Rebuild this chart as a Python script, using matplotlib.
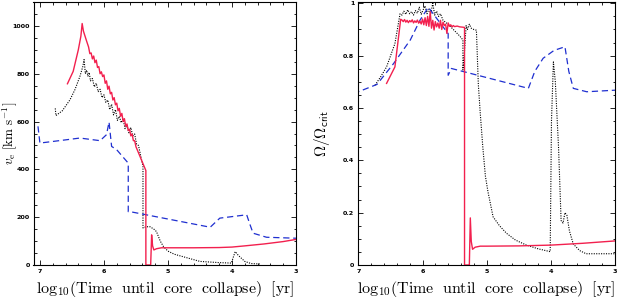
import matplotlib
matplotlib.use("Agg")
import matplotlib.pyplot as plt
from matplotlib.ticker import MultipleLocator, FuncFormatter

plt.rcParams["mathtext.fontset"] = "cm"

RED = "#f2204e"
BLUE = "#1f2fd0"

# ---- left panel: surface equatorial velocity [km/s] ----
red_v_x = [6.57, 6.48, 6.40, 6.36, 6.34, 6.32, 6.27,
           6.24, 6.22, 6.20, 6.18, 6.16, 6.14, 6.12, 6.10, 6.08, 6.06,
           6.04, 6.02, 6.00, 5.98, 5.96, 5.94, 5.92, 5.90, 5.88, 5.86,
           5.84, 5.82, 5.80, 5.78, 5.76, 5.74, 5.72, 5.70, 5.68, 5.66,
           5.64, 5.62, 5.60, 5.58, 5.56, 5.54, 5.52, 5.50,
           5.345, 5.345, 5.32, 5.27, 5.265, 5.255, 5.24, 5.22, 5.18,
           5.10, 5.0, 4.6, 4.2, 4.0, 3.8, 3.5, 3.2, 3.0]
red_v_y = [758, 810, 900, 957, 1010, 978, 936,
           912, 884, 887, 862, 874, 846, 857, 826, 830, 800,
           808, 788, 795, 760, 770, 735, 748, 716, 722, 690,
           700, 670, 677, 645, 655, 622, 634, 600, 612, 580,
           590, 562, 568, 540, 548, 520, 520, 495,
           395, 0, 0, 0, 40, 126, 80, 63, 68,
           72, 72, 72, 73, 75, 80, 88, 98, 107]

blk_v_x = [6.76, 6.75, 6.65, 6.53, 6.45, 6.375, 6.33, 6.31,
           6.29, 6.27, 6.25, 6.23, 6.21, 6.18, 6.15, 6.12, 6.09, 6.06,
           6.03, 6.00, 5.97, 5.94, 5.91, 5.88, 5.85, 5.82, 5.79, 5.76,
           5.73, 5.70, 5.67, 5.64, 5.61, 5.58, 5.55, 5.52, 5.49, 5.46,
           5.39, 5.39, 5.34, 5.28, 5.22, 5.18, 5.12, 5.07, 5.0, 4.9,
           4.7, 4.5, 4.2, 4.01, 3.95, 3.9, 3.8, 3.7, 3.55]
blk_v_y = [655, 625, 645, 691, 735, 789, 830, 859,
           800, 815, 790, 805, 770, 780, 745, 760, 725, 735,
           700, 712, 680, 690, 650, 672, 628, 650, 605, 622,
           595, 610, 570, 585, 553, 575, 540, 548, 505, 500,
           412, 155, 160, 160, 150, 140, 100, 77, 58, 45,
           30, 15, 10, 8, 56, 40, 15, 6, 4]

blu_v_x = [7.03, 7.0, 6.58, 6.375, 6.06, 5.96, 5.92, 5.88, 5.80, 5.62,
           5.62, 5.59, 4.34, 4.19, 3.77, 3.72, 3.67, 3.46, 3.0]
blu_v_y = [580, 510, 524, 531, 520, 545, 598, 496, 482, 426,
           223, 223, 158, 196, 210, 170, 133, 116, 112]

# ---- right panel: Omega / Omega_crit ----
red_o_x = [6.56, 6.43, 6.34,
           6.32, 6.30, 6.28, 6.26, 6.24, 6.22, 6.20, 6.18, 6.16, 6.14,
           6.12, 6.10, 6.08, 6.06, 6.04, 6.02, 6.00, 5.98, 5.96, 5.94,
           5.92, 5.90, 5.88, 5.86, 5.84, 5.82, 5.80, 5.78, 5.76, 5.74,
           5.72, 5.70, 5.68, 5.66, 5.64, 5.62, 5.60, 5.58, 5.56, 5.54,
           5.52, 5.50, 5.46, 5.42, 5.38, 5.345,
           5.345, 5.32, 5.27, 5.265, 5.255, 5.24, 5.22, 5.18, 5.10,
           5.0, 4.5, 4.0, 3.5, 3.0]
red_o_y = [0.694, 0.757, 0.939,
           0.936, 0.930, 0.938, 0.928, 0.935, 0.926, 0.934, 0.929, 0.937, 0.925,
           0.933, 0.927, 0.936, 0.924, 0.932, 0.921, 0.940, 0.918, 0.945, 0.915,
           0.950, 0.912, 0.968, 0.905, 0.935, 0.898, 0.930, 0.910, 0.925, 0.905,
           0.935, 0.900, 0.928, 0.915, 0.920, 0.885, 0.925, 0.912, 0.918, 0.910,
           0.915, 0.911, 0.913, 0.910, 0.909, 0.908,
           0.0, 0.0, 0.0, 0.06, 0.18, 0.09, 0.06, 0.068, 0.072,
           0.072, 0.073, 0.076, 0.083, 0.092]

blk_o_x = [6.74, 6.65, 6.56, 6.43, 6.35,
           6.32, 6.29, 6.26, 6.23, 6.20, 6.17, 6.14, 6.11, 6.08, 6.05,
           6.02, 5.99, 5.96, 5.93, 5.90, 5.87, 5.84, 5.81, 5.78, 5.75,
           5.72, 5.68, 5.60, 5.50, 5.42, 5.37, 5.37, 5.35, 5.32, 5.30,
           5.27, 5.24, 5.20, 5.16, 5.13, 5.10, 5.06, 5.02, 4.98, 4.90,
           4.80, 4.69, 4.55, 4.38, 4.20, 4.01,
           3.99, 3.96, 3.93, 3.88, 3.84, 3.81, 3.78, 3.75, 3.71, 3.65,
           3.55, 3.45, 3.0]
blk_o_y = [0.687, 0.72, 0.757, 0.846, 0.96,
           0.955, 0.970, 0.958, 0.975, 0.960, 0.968, 0.955, 0.972, 0.962, 0.985,
           0.958, 0.975, 0.990, 0.960, 0.978, 0.962, 1.0, 0.955, 0.970, 0.950,
           0.960, 0.935, 0.920, 0.895, 0.875, 0.86, 0.745, 0.80, 0.915, 0.90,
           0.92, 0.905, 0.90, 0.897, 0.69, 0.58, 0.45, 0.34, 0.28, 0.184,
           0.15, 0.121, 0.095, 0.076, 0.062, 0.051,
           0.55, 0.776, 0.70, 0.45, 0.17, 0.16, 0.20, 0.19, 0.13, 0.08,
           0.055, 0.043, 0.043]

blu_o_x = [7.0, 7.0, 6.71, 6.45, 6.19, 6.04, 5.91, 5.60, 5.60, 5.55,
           4.35, 4.25, 4.12, 3.95, 3.78, 3.72, 3.65, 3.44, 3.0]
blu_o_y = [0.72, 0.662, 0.69, 0.77, 0.86, 0.935, 0.985, 0.884, 0.725, 0.751,
           0.675, 0.74, 0.79, 0.82, 0.834, 0.74, 0.675, 0.662, 0.668]


def style_axes(ax, ymajor, yminor, fmt):
    ax.xaxis.set_major_locator(MultipleLocator(1))
    ax.xaxis.set_minor_locator(MultipleLocator(0.2))
    ax.yaxis.set_major_locator(MultipleLocator(ymajor))
    ax.yaxis.set_minor_locator(MultipleLocator(yminor))
    ax.yaxis.set_major_formatter(FuncFormatter(fmt))
    ax.xaxis.set_major_formatter(FuncFormatter(lambda v, p: "%d" % round(v)))
    ax.tick_params(which="both", direction="in", top=True, right=True,
                   width=0.6, labelsize=4.6)
    ax.tick_params(which="major", length=3.6)
    ax.tick_params(which="minor", length=1.8)
    ax.tick_params(axis="y", pad=2.5)
    ax.tick_params(axis="x", pad=3)
    for lab in ax.get_xticklabels() + ax.get_yticklabels():
        lab.set_fontweight("bold")
    for sp in ax.spines.values():
        sp.set_linewidth(0.8)
    ax.set_xlabel(r"$\mathrm{log_{10}(Time\ \ until\ \ core\ \ collapse)\ \ [yr]}$",
                  fontsize=11.5)
    ax.xaxis.set_label_coords(0.5, -0.055)


fig = plt.figure(figsize=(6.23, 2.99), dpi=100)
ax1 = fig.add_axes([33.5 / 623, 1 - 265 / 299, (296 - 33.5) / 623, 263 / 299])
ax2 = fig.add_axes([357.7 / 623, 1 - 265 / 299, (615 - 357.7) / 623, 263 / 299])

ax1.plot(blk_v_x, blk_v_y, color="k", ls=(0, (1, 1.2)), lw=0.8)
ax1.plot(blu_v_x, blu_v_y, color=BLUE, ls=(0, (5, 3)), lw=0.9)
ax1.plot(red_v_x, red_v_y, color=RED, lw=1.0)
ax1.set_xlim(7.1, 3.0)
ax1.set_ylim(0, 1100)
style_axes(ax1, 200, 50, lambda v, p: "%d" % round(v))
ax1.set_ylabel(r"$v_{\rm e}\ \mathrm{[km\ s^{-1}]}$", fontsize=9.5)
ax1.yaxis.set_label_coords(-0.057, 0.5)

ax2.plot(blk_o_x, blk_o_y, color="k", ls=(0, (1, 1.2)), lw=0.8)
ax2.plot(blu_o_x, blu_o_y, color=BLUE, ls=(0, (5, 3)), lw=0.9)
ax2.plot(red_o_x, red_o_y, color=RED, lw=1.0)
ax2.set_xlim(7.01, 3.0)
ax2.set_ylim(0, 1.005)
style_axes(ax2, 0.2, 0.05, lambda v, p: "%g" % round(v, 2))
ax2.set_ylabel(r"$\Omega/\Omega_{\mathsf{crit}}$", fontsize=11)
ax2.yaxis.set_label_coords(-0.10, 0.5)

fig.savefig("out.png", dpi=100)
